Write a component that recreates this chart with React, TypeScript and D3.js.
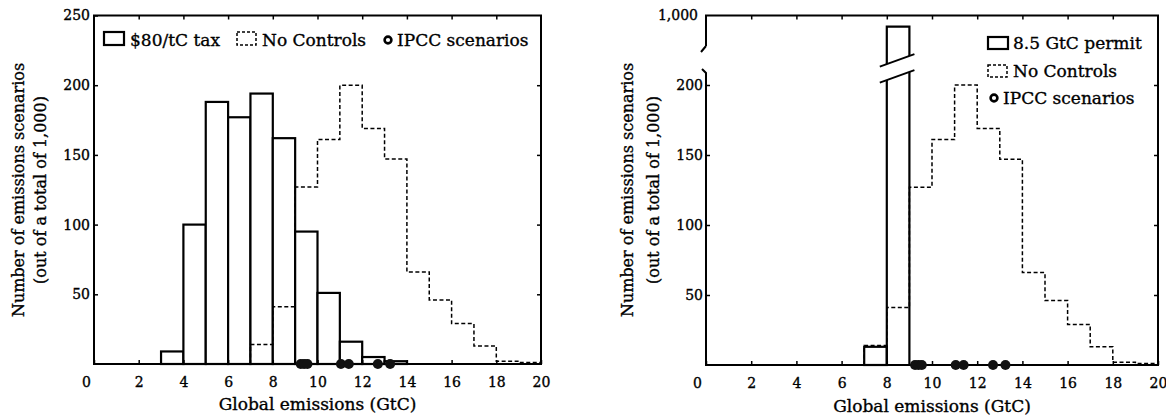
import { useEffect, useRef } from 'react';
import * as d3 from 'd3';

// $80/tC tax histogram (bins of 1 GtC, starting value)
const taxStarts = [3, 4, 5, 6, 7, 8, 9, 10, 11, 12, 13];
const taxCounts = [9, 100, 188, 177, 194, 162, 95, 51, 16, 5, 2];

// No Controls histogram (dashed step line)
const noCtrlStarts = [7, 8, 9, 10, 11, 12, 13, 14, 15, 16, 17, 18, 19];
const noCtrlCounts = [14, 41, 127, 161, 200, 169, 147, 66, 46, 29, 13, 2, 1];

// 8.5 GtC permit histogram
const permitStarts = [7, 8];
const permitCounts = [13, 987];

// IPCC scenarios (GtC)
const ipccEmissions = [9.25, 9.4, 9.55, 11.05, 11.4, 12.7, 13.25];

const xTicks = [0, 2, 4, 6, 8, 10, 12, 14, 16, 18, 20];
const leftYTicks = [50, 100, 150, 200, 250];
const rightYTicks = [50, 100, 150, 200];
const rightTopTicks = [1000];

const leftLegend = ['$80/tC tax', 'No Controls', 'IPCC scenarios'];
const rightLegend = ['8.5 GtC permit', 'No Controls', 'IPCC scenarios'];
const xTitle = 'Global emissions (GtC)';
const yTitle = ['Number of emissions scenarios', '(out of a total of 1,000)'];

const FONT = "'DejaVu Serif', serif";

function App() {
  const svgRef = useRef<SVGSVGElement>(null);

  useEffect(() => {
    const svg = d3.select(svgRef.current);
    svg.selectAll('*').remove();

    const xL = d3.scaleLinear().domain([0, 20]).range([94, 541]);
    const yL = d3.scaleLinear().domain([0, 250]).range([364, 15.5]);
    const xR = d3.scaleLinear().domain([0, 20]).range([706, 1158]);
    const yR = d3.scaleLinear().domain([0, 210]).range([365, 71]);
    const yRTop = d3.scaleLinear().domain([950, 1000]).range([58, 15.5]);

    const stepLine = (x, y) => d3.line<number[]>()
      .x(d => x(d[0]))
      .y(d => y(d[1]))
      .curve(d3.curveStepAfter);
    const noCtrlPts = [[noCtrlStarts[0], 0]]
      .concat(noCtrlStarts.map((s, i) => [s, noCtrlCounts[i]]))
      .concat([[20, noCtrlCounts[noCtrlCounts.length - 1]]]);

    // scanned print looks heavy: thicken text a little
    const heavy = sel => sel.attr('stroke', '#000').attr('stroke-width', 0.35).attr('paint-order', 'stroke');

    const styleAxis = (g, size) => {
      g.select('.domain').remove();
      g.attr('font-family', FONT).attr('font-size', size);
      g.selectAll('line').attr('stroke', '#000').attr('stroke-width', 1.5);
      g.selectAll('text').attr('fill', '#000').call(heavy);
    };

    // ---------- left panel ----------
    const left = svg.append('g');

    left.selectAll('rect.bar').data(taxStarts).join('rect')
      .attr('class', 'bar')
      .attr('x', d => xL(d))
      .attr('width', d => xL(d + 1) - xL(d))
      .attr('y', (d, i) => yL(taxCounts[i]))
      .attr('height', (d, i) => yL(0) - yL(taxCounts[i]))
      .attr('fill', '#fff')
      .attr('stroke', '#000')
      .attr('stroke-width', 2.2);

    left.append('path')
      .attr('d', stepLine(xL, yL)(noCtrlPts))
      .attr('fill', 'none')
      .attr('stroke', '#000')
      .attr('stroke-width', 1.5)
      .attr('stroke-dasharray', '4,2.5');

    left.append('rect')
      .attr('x', xL(0)).attr('y', yL(250))
      .attr('width', xL(20) - xL(0)).attr('height', yL(0) - yL(250))
      .attr('fill', 'none').attr('stroke', '#000').attr('stroke-width', 2);

    left.selectAll('circle.ipcc').data(ipccEmissions).join('circle')
      .attr('class', 'ipcc')
      .attr('cx', d => xL(d)).attr('cy', yL(0)).attr('r', 5)
      .attr('fill', '#111');

    left.append('g').attr('transform', `translate(0,${yL(0)})`)
      .call(d3.axisBottom(xL).tickValues(xTicks).tickSize(-4).tickPadding(13))
      .call(g => styleAxis(g, 14))
      .call(g => g.selectAll('.tick').filter(d => d === 0).select('text').attr('dx', -8));
    left.append('g').attr('transform', `translate(0,${yL(250)})`)
      .call(d3.axisTop(xL).tickValues(xTicks.slice(1, -1)).tickSize(-4).tickFormat(() => ''))
      .call(g => styleAxis(g, 14));
    left.append('g').attr('transform', `translate(${xL(0)},0)`)
      .call(d3.axisLeft(yL).tickValues(leftYTicks).tickSize(-4).tickPadding(4))
      .call(g => styleAxis(g, 14));
    left.append('g').attr('transform', `translate(${xL(20)},0)`)
      .call(d3.axisRight(yL).tickValues(leftYTicks.slice(0, -1)).tickSize(-4).tickFormat(() => ''))
      .call(g => styleAxis(g, 14));

    // legend (one row)
    const lg = left.append('g').attr('font-family', FONT).attr('font-size', 17);
    lg.append('rect').attr('x', 104).attr('y', 32).attr('width', 20).attr('height', 13)
      .attr('fill', '#fff').attr('stroke', '#000').attr('stroke-width', 2.2);
    lg.append('text').attr('x', 130).attr('y', 46).text(leftLegend[0]).call(heavy);
    lg.append('rect').attr('x', 237).attr('y', 32).attr('width', 19).attr('height', 13)
      .attr('fill', 'none').attr('stroke', '#000').attr('stroke-width', 1.5).attr('stroke-dasharray', '3,2');
    lg.append('text').attr('x', 262).attr('y', 46).text(leftLegend[1]).call(heavy);
    lg.append('circle').attr('cx', 388).attr('cy', 40).attr('r', 3.4)
      .attr('fill', '#fff').attr('stroke', '#000').attr('stroke-width', 2.6);
    lg.append('text').attr('x', 397).attr('y', 46).text(leftLegend[2]).call(heavy);

    // ---------- right panel ----------
    const right = svg.append('g');

    // small permit bar
    right.append('rect')
      .attr('x', xR(permitStarts[0]))
      .attr('width', xR(permitStarts[0] + 1) - xR(permitStarts[0]))
      .attr('y', yR(permitCounts[0]))
      .attr('height', yR(0) - yR(permitCounts[0]))
      .attr('fill', '#fff').attr('stroke', '#000').attr('stroke-width', 2.2);

    // tall permit bar with a break
    const bx0 = xR(permitStarts[1]);
    const bx1 = xR(permitStarts[1] + 1);
    const slope = -13 / 36;
    const upMid = yRTop(950) + 2;
    const loMid = yR(210) + 5;
    const bc = (bx0 + bx1) / 2;
    const slantY = (mid, x) => mid + slope * (x - bc);
    right.append('path')
      .attr('d', `M${bx0},${slantY(upMid, bx0)}V${yRTop(permitCounts[1])}H${bx1}V${slantY(upMid, bx1)}`)
      .attr('fill', '#fff').attr('stroke', '#000').attr('stroke-width', 2.2);
    right.append('path')
      .attr('d', `M${bx0},${slantY(loMid, bx0)}V${yR(0)}M${bx1},${yR(0)}V${slantY(loMid, bx1)}`)
      .attr('fill', 'none').attr('stroke', '#000').attr('stroke-width', 2.2);
    [upMid, loMid].forEach(mid => {
      right.append('line')
        .attr('x1', bx0 - 7).attr('y1', slantY(mid, bx0 - 7))
        .attr('x2', bx1 + 5).attr('y2', slantY(mid, bx1 + 5))
        .attr('stroke', '#000').attr('stroke-width', 2);
    });

    right.append('path')
      .attr('d', stepLine(xR, yR)(noCtrlPts))
      .attr('fill', 'none')
      .attr('stroke', '#000')
      .attr('stroke-width', 1.5)
      .attr('stroke-dasharray', '4,2.5');

    // frame with broken left axis
    right.append('path')
      .attr('d', `M${xR(0)},46L${xR(0) - 5},52M${xR(0)},46V${yRTop(1000)}H${xR(20)}V${yR(0)}H${xR(0)}V73L${xR(0) - 4},69`)
      .attr('fill', 'none').attr('stroke', '#000').attr('stroke-width', 2);

    right.selectAll('circle.ipcc').data(ipccEmissions).join('circle')
      .attr('class', 'ipcc')
      .attr('cx', d => xR(d)).attr('cy', yR(0)).attr('r', 5)
      .attr('fill', '#111');

    right.append('g').attr('transform', `translate(0,${yR(0)})`)
      .call(d3.axisBottom(xR).tickValues(xTicks).tickSize(-4).tickPadding(13))
      .call(g => styleAxis(g, 14))
      .call(g => g.selectAll('.tick').filter(d => d === 0).select('text').attr('dx', -9));
    right.append('g').attr('transform', `translate(0,${yRTop(1000)})`)
      .call(d3.axisTop(xR).tickValues(xTicks.slice(1, -1)).tickSize(-4).tickFormat(() => ''))
      .call(g => styleAxis(g, 14));
    right.append('g').attr('transform', `translate(${xR(0)},0)`)
      .call(d3.axisLeft(yR).tickValues(rightYTicks).tickSize(-4).tickPadding(3))
      .call(g => styleAxis(g, 14));
    right.append('g').attr('transform', `translate(${xR(0)},0)`)
      .call(d3.axisLeft(yRTop).tickValues(rightTopTicks).tickSize(0).tickPadding(8).tickFormat(d3.format(',')))
      .call(g => styleAxis(g, 14));
    right.append('g').attr('transform', `translate(${xR(20)},0)`)
      .call(d3.axisRight(yR).tickValues(rightYTicks).tickSize(-4).tickFormat(() => ''))
      .call(g => styleAxis(g, 14));

    // legend (stacked)
    const rg = right.append('g').attr('font-family', FONT).attr('font-size', 17);
    rg.append('rect').attr('x', 988).attr('y', 37).attr('width', 20).attr('height', 12)
      .attr('fill', '#fff').attr('stroke', '#000').attr('stroke-width', 2.2);
    rg.append('text').attr('x', 1013).attr('y', 49).text(rightLegend[0]).call(heavy);
    rg.append('rect').attr('x', 988).attr('y', 65).attr('width', 19).attr('height', 12)
      .attr('fill', 'none').attr('stroke', '#000').attr('stroke-width', 1.5).attr('stroke-dasharray', '3,2');
    rg.append('text').attr('x', 1013).attr('y', 77).text(rightLegend[1]).call(heavy);
    rg.append('circle').attr('cx', 994).attr('cy', 98).attr('r', 3.4)
      .attr('fill', '#fff').attr('stroke', '#000').attr('stroke-width', 2.6);
    rg.append('text').attr('x', 1003).attr('y', 104).text(rightLegend[2]).call(heavy);

    // ---------- titles ----------
    [[xL, 410], [xR, 412]].forEach(([x, y]) => {
      svg.append('text')
        .attr('x', (x(0) + x(20)) / 2).attr('y', y)
        .attr('text-anchor', 'middle')
        .attr('font-family', FONT).attr('font-size', 17)
        .text(xTitle).call(heavy);
    });
    [[xL(0), 76, 54], [xR(0), 79, 53]].forEach(([x0, o1, o2]) => {
      [o1, o2].forEach((o, i) => {
        svg.append('text')
          .attr('transform', `translate(${x0 - o},190) rotate(-90)`)
          .attr('text-anchor', 'middle')
          .attr('dominant-baseline', 'central')
          .attr('font-family', FONT).attr('font-size', 16)
          .text(yTitle[i]).call(heavy);
      });
    });
  }, []);

  return (
    <div className='Graph'>
      <svg ref={svgRef} width={1166} height={419}
        style={{ position: 'absolute', left: 0, top: 0, background: '#fff' }}></svg>
    </div>
  );
}

export default App;
